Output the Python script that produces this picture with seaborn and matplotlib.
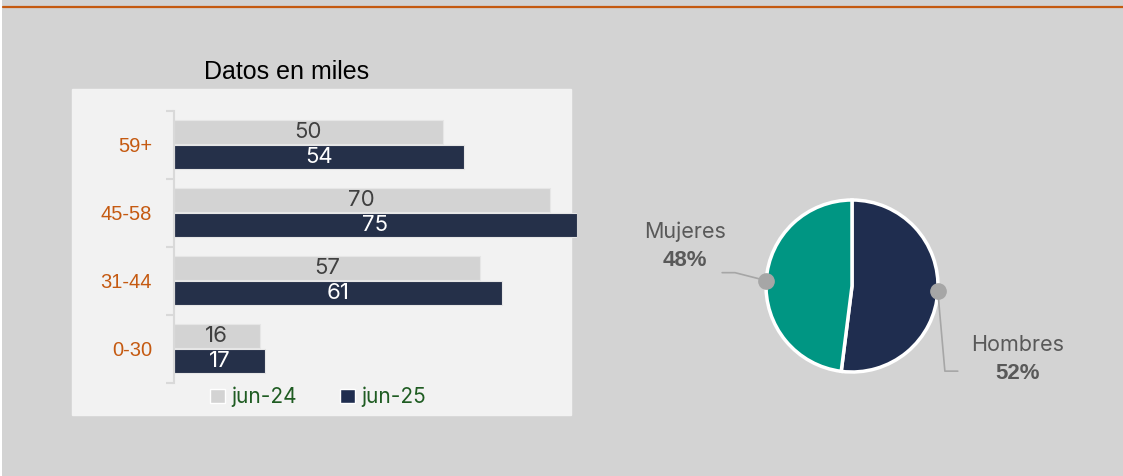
import numpy as np
import pandas as pd
import matplotlib.pyplot as plt
import seaborn as sns
from matplotlib.patches import Rectangle, Patch
from matplotlib.lines import Line2D

# datos
grupos = ["59+", "45-58", "31-44", "0-30"]
jun24 = [50, 70, 57, 16]
jun25 = [54, 75, 61, 17]
series = ["jun-24", "jun-25"]
sexo = ["Hombres", "Mujeres"]
porcentaje = [52, 48]

color_24 = "#d3d3d3"
color_25 = "#1f2d4f"
color_teal = "#009683"
naranja = "#c55a11"
fondo = "#d3d3d3"

sns.set_theme(style="white")
plt.rcParams["font.family"] = ["Liberation Sans", "DejaVu Sans"]

W, H = 1123, 476
fig = plt.figure(figsize=(W / 100, H / 100), dpi=100, facecolor=fondo)

# decoraciones de fondo
fig.patches.append(Rectangle((0, 0), 2 / W, 1, transform=fig.transFigure,
                             color="white", linewidth=0, zorder=-2))
fig.lines.append(Line2D([3 / W, 1], [1 - 7 / H, 1 - 7 / H], transform=fig.transFigure,
                        color=naranja, linewidth=1.6))
fig.patches.append(Rectangle((72 / W, 1 - 415 / H), 499 / W, 326 / H,
                             transform=fig.transFigure, color="#f2f2f2", zorder=-2))
fig.text(287 / W, 1 - 72 / H, "Datos en miles", ha="center", va="center",
         fontsize=18, color="black")

# ---------------------------
#  Barras por edad
# ---------------------------
df = pd.DataFrame({
    "grupo": grupos * 2,
    "valor": jun24 + jun25,
    "serie": [series[0]] * len(grupos) + [series[1]] * len(grupos),
})

ax = fig.add_axes([173.6 / W, 1 - 382.6 / H, 403.4 / W, 272 / H])
ax.set_zorder(2)
ax.set_facecolor("none")
sns.barplot(data=df, y="grupo", x="valor", hue="serie", order=grupos,
            palette=[color_24, color_25], width=0.75, gap=0.06,
            edgecolor="#e6e6e6", linewidth=0.8, legend=False, ax=ax)
ax.set_xlim(0, 75)
ax.set_ylim(len(grupos) - 0.5, -0.5)
ax.set_xlabel("")
ax.set_ylabel("")
ax.set_xticks([])
for s in ["top", "right", "bottom"]:
    ax.spines[s].set_visible(False)
ax.spines["left"].set_color("#d9d9d9")
ax.spines["left"].set_linewidth(1.5)
ax.tick_params(axis="y", which="major", length=0, pad=15.5, labelsize=14.5,
               labelcolor=naranja)
ax.set_yticks(np.arange(len(grupos) + 1) - 0.5, minor=True)
ax.tick_params(axis="y", which="minor", length=6, width=1.5, color="#d9d9d9", left=True)

for cont, col in zip(ax.containers, ["#404040", "white"]):
    ax.bar_label(cont, label_type="center", color=col, fontsize=16,
                 family=["Inter", "DejaVu Sans"])

handles = [Patch(facecolor=color_24), Patch(facecolor=color_25)]
leg = fig.legend(handles, series, loc="center", bbox_to_anchor=(318 / W, 1 - 397 / H),
                 ncol=2, frameon=False, handlelength=0.7, handleheight=0.7,
                 handletextpad=0.3, columnspacing=2.1,
                 prop={"family": ["Inter", "DejaVu Sans"], "size": 15})
for t in leg.get_texts():
    t.set_color("#1f5c22")

# ---------------------------
#  Distribución por sexo
# ---------------------------
R = 86
cx, cy = 852, 286
box = 110
axp = fig.add_axes([(cx - box) / W, (H - cy - box) / H, 2 * box / W, 2 * box / H])
wedges, _ = axp.pie(porcentaje, colors=[color_25, color_teal], startangle=90,
                    counterclock=False,
                    wedgeprops=dict(edgecolor="white", linewidth=2.5))
axp.set_xlim(-box / R, box / R)
axp.set_ylim(-box / R, box / R)
axp.set_aspect("equal")
axp.axis("off")

gris = "#595959"
linea = "#a6a6a6"
# guías desde el borde de cada porción hasta su etiqueta
for w, nombre, pct in zip(wedges, sexo, porcentaje):
    ang = np.deg2rad((w.theta1 + w.theta2) / 2)
    px, py = np.cos(ang), np.sin(ang)
    if px > 0:
        xs = [px, 1.08, 1.23]
        ys = [py, -0.99, -0.99]
        tx, ty = 1.93, -0.69
    else:
        xs = [px, -1.36, -1.51]
        ys = [py, 0.155, 0.155]
        tx, ty = -1.94, 0.63
    axp.plot(xs, ys, color=linea, linewidth=1.2, clip_on=False, zorder=3)
    axp.plot(px, py, "o", color=linea, markersize=11, clip_on=False, zorder=4)
    axp.text(tx, ty, nombre, ha="center", va="center", fontsize=15.5, color=gris,
             family=["Inter", "DejaVu Sans"], clip_on=False)
    axp.text(tx, ty - 0.33, f"{pct}%", ha="center", va="center", fontsize=16,
             color=gris, fontweight="bold", family=["Liberation Sans", "DejaVu Sans"],
             clip_on=False)

fig.savefig("out.png", dpi=100, facecolor=fondo)
